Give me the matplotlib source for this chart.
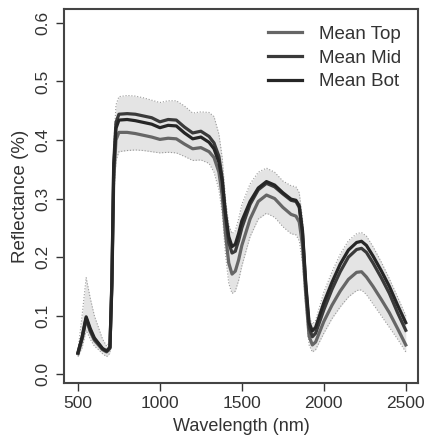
import matplotlib
matplotlib.use("Agg")
import matplotlib.pyplot as plt

plt.rcParams["font.family"] = ["Liberation Sans", "DejaVu Sans"]

# Wavelength grid (nm)
wavelength = [500, 525, 550, 575, 600, 625, 650, 675, 695, 707, 718, 732, 750,
              800, 850, 900, 950, 1000, 1050, 1100, 1150, 1200, 1250, 1300,
              1330, 1360, 1380, 1400, 1420, 1440, 1460, 1480, 1500, 1550, 1600,
              1650, 1700, 1750, 1800, 1830, 1850, 1870, 1890, 1910, 1930, 1950,
              2000, 2050, 2100, 2150, 2200, 2230, 2260, 2300, 2350, 2400, 2450,
              2500]

mean_top = [0.035, 0.06, 0.094, 0.073, 0.058, 0.05, 0.042, 0.038, 0.044, 0.15,
            0.33, 0.40, 0.413, 0.413, 0.411, 0.408, 0.405, 0.401, 0.403, 0.402,
            0.393, 0.385, 0.387, 0.38, 0.37, 0.345, 0.305, 0.24, 0.19, 0.171,
            0.176, 0.195, 0.22, 0.265, 0.295, 0.306, 0.3, 0.285, 0.273, 0.27,
            0.26, 0.22, 0.135, 0.065, 0.05, 0.055, 0.09, 0.118, 0.142, 0.162,
            0.174, 0.175, 0.166, 0.15, 0.128, 0.105, 0.078, 0.05]

mean_mid = [0.036, 0.062, 0.096, 0.075, 0.060, 0.052, 0.043, 0.039, 0.045, 0.16,
            0.36, 0.43, 0.444, 0.445, 0.444, 0.441, 0.438, 0.431, 0.435, 0.434,
            0.422, 0.412, 0.415, 0.406, 0.395, 0.372, 0.335, 0.27, 0.225, 0.207,
            0.21, 0.228, 0.25, 0.29, 0.315, 0.326, 0.32, 0.308, 0.297, 0.295,
            0.285, 0.24, 0.15, 0.08, 0.064, 0.07, 0.11, 0.145, 0.175, 0.2,
            0.213, 0.215, 0.208, 0.19, 0.165, 0.138, 0.105, 0.075]

mean_bot = [0.037, 0.063, 0.098, 0.078, 0.062, 0.053, 0.044, 0.040, 0.046, 0.155,
            0.35, 0.42, 0.434, 0.435, 0.433, 0.430, 0.427, 0.421, 0.425, 0.424,
            0.412, 0.402, 0.405, 0.396, 0.385, 0.362, 0.33, 0.275, 0.235, 0.218,
            0.222, 0.24, 0.262, 0.295, 0.318, 0.329, 0.323, 0.31, 0.299, 0.297,
            0.288, 0.245, 0.155, 0.088, 0.074, 0.08, 0.122, 0.157, 0.188, 0.212,
            0.225, 0.227, 0.22, 0.202, 0.177, 0.15, 0.118, 0.088]

# envelope of the shaded band
band_upper = [0.04, 0.10, 0.165, 0.13, 0.10, 0.08, 0.06, 0.048, 0.055, 0.18,
              0.39, 0.46, 0.474, 0.476, 0.475, 0.472, 0.468, 0.464, 0.467, 0.467,
              0.458, 0.446, 0.448, 0.447, 0.44, 0.41, 0.37, 0.3, 0.255, 0.24,
              0.245, 0.265, 0.29, 0.325, 0.345, 0.352, 0.345, 0.33, 0.322, 0.32,
              0.31, 0.265, 0.17, 0.098, 0.085, 0.092, 0.14, 0.175, 0.205, 0.228,
              0.24, 0.242, 0.236, 0.218, 0.192, 0.163, 0.132, 0.10]

band_lower = [0.03, 0.045, 0.075, 0.06, 0.048, 0.042, 0.035, 0.03, 0.036, 0.13,
              0.30, 0.365, 0.38, 0.382, 0.383, 0.382, 0.38, 0.378, 0.379, 0.378,
              0.372, 0.365, 0.366, 0.36, 0.345, 0.315, 0.275, 0.205, 0.155, 0.138,
              0.142, 0.16, 0.185, 0.235, 0.265, 0.275, 0.268, 0.252, 0.24, 0.238,
              0.228, 0.19, 0.115, 0.05, 0.038, 0.042, 0.07, 0.095, 0.115, 0.132,
              0.143, 0.144, 0.136, 0.12, 0.1, 0.08, 0.06, 0.038]

x_ticks = [500, 1000, 1500, 2000, 2500]
y_ticks = [0.0, 0.1, 0.2, 0.3, 0.4, 0.5, 0.6]

fig = plt.figure(figsize=(4.24, 4.41), dpi=100)
ax = fig.add_axes([0.151, 0.1315, 0.835, 0.8485])

# shaded band
ax.fill_between(wavelength, band_lower, band_upper, color="#e4e4e4", lw=0)
ax.plot(wavelength, band_upper, color="#9a9a9a", lw=0.8, ls=":")
ax.plot(wavelength, band_lower, color="#9a9a9a", lw=0.8, ls=":")

# mean lines
ax.plot(wavelength, mean_top, color="#666666", lw=2.3, label="Mean Top")
ax.plot(wavelength, mean_mid, color="#3a3a3a", lw=2.3, label="Mean Mid")
ax.plot(wavelength, mean_bot, color="#262626", lw=2.3, label="Mean Bot")

ax.set_xlim(415, 2575)
ax.set_ylim(-0.015, 0.624)
ax.set_xticks(x_ticks)
ax.set_yticks(y_ticks)
ax.set_yticklabels([f"{v:.1f}" for v in y_ticks], rotation=90, va="center")

ax.tick_params(axis="both", labelsize=12.5, colors="#333333", length=6,
               width=1, direction="out")
for sp in ax.spines.values():
    sp.set_color("#444444")
    sp.set_linewidth(1.5)

ax.set_xlabel("Wavelength (nm)", fontsize=13, color="#333333", labelpad=5)
ax.set_ylabel("Reflectance (%)", fontsize=13.5, color="#333333", labelpad=5)

leg = ax.legend(loc="upper right", frameon=False, fontsize=13.5,
                handlelength=1.8, handletextpad=0.9, labelspacing=0.35,
                borderaxespad=0.5)
for t in leg.get_texts():
    t.set_color("#333333")

fig.savefig("out.png", dpi=100)
